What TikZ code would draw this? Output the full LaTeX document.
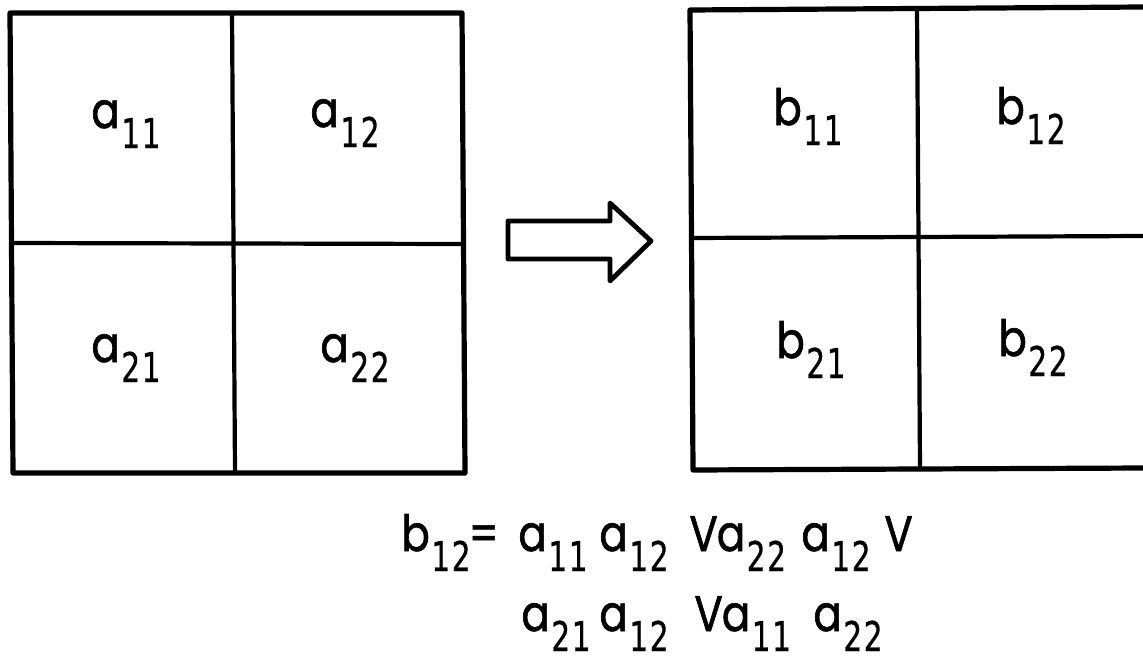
\documentclass[tikz,border=0pt]{standalone}
\usepackage{fontspec}
\setmainfont{Poppins}[FakeStretch=0.84,FakeBold=1.2]
\newfontfamily\digitfont{DejaVu Sans}[FakeStretch=0.72,FakeBold=0.6,LetterSpace=4]
\newcommand{\ix}[2]{#1\kern0.8pt\raisebox{-10pt}{\fontsize{20.5}{20.5}\digitfont #2}}
\begin{document}
\begin{tikzpicture}[x=0.5pt,y=-0.5pt,
  outer/.style={line width=2.6pt,line join=round,line cap=round},
  inner/.style={line width=2.1pt,line cap=round},
  lbl/.style={anchor=base west,inner sep=0pt,font=\fontsize{25}{25}\selectfont}]
\useasboundingbox (0,0) rectangle (1143,658);
% left grid
\draw[outer] (10,13) -- (462,13) -- (465,473) -- (13,473) -- cycle;
\draw[inner] (232,13) -- (235,473);
\draw[inner] (11,243) -- (463,244);
% right grid
\draw[outer] (1143,7) -- (690,10) -- (693,470) -- (1143,468);
\draw[inner] (917,10) -- (920,469);
\draw[inner] (691,238) -- (1143,236);
% arrow
\draw[line width=2.4pt,line join=round] (508,221) -- (610,221) -- (610,203) -- (651,241) -- (610,281) -- (610,259) -- (508,259) -- cycle;
% cell labels
\node[lbl] (a11) at (91,128) {\ix{a}{11}};
\node[lbl] (a12) at (310,127) {\ix{a}{12}};
\node[lbl] (a21) at (91,362) {\ix{a}{21}};
\node[lbl] (a22) at (320,362) {\ix{a}{22}};
\node[lbl] (b11) at (773,125) {\ix{b}{11}};
\node[lbl] (b12) at (996,124) {\ix{b}{12}};
\node[lbl] (b21) at (776,358) {\ix{b}{21}};
\node[lbl] (b22) at (998,356) {\ix{b}{22}};
% formula, line 1
\node[lbl] (e1a) at (401,551) {\ix{b}{12}\kern-1pt=};
\node[lbl] (e1b) at (518,551) {\ix{a}{11}};
\node[lbl] (e1c) at (599,551) {\ix{a}{12}};
\node[lbl] (e1d) at (689,551) {V\kern-0.5pt\ix{a}{22}};
\node[lbl] (e1e) at (801,551) {\ix{a}{12}};
\node[lbl] (e1f) at (884,551) {V};
% formula, line 2
\node[lbl] (e2a) at (521,631) {\ix{a}{21}};
\node[lbl] (e2b) at (599,631) {\ix{a}{12}};
\node[lbl] (e2c) at (694,631) {V\kern-0.5pt\ix{a}{11}};
\node[lbl] (e2d) at (813,631) {\ix{a}{22}};
\end{tikzpicture}
\end{document}
